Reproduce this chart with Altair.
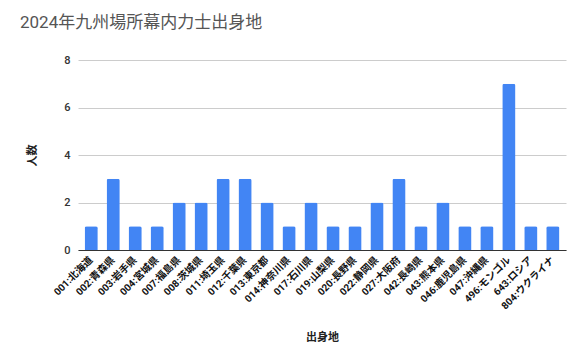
import altair as alt
import pandas as pd

categories = ["001:北海道", "002:青森県", "003:岩手県", "004:宮城県", "007:福島県", "008:茨城県",
              "011:埼玉県", "012:千葉県", "013:東京都", "014:神奈川県", "017:石川県", "019:山梨県",
              "020:長野県", "022:静岡県", "027:大阪府", "042:長崎県", "043:熊本県", "046:鹿児島県",
              "047:沖縄県", "496:モンゴル", "643:ロシア", "804:ウクライナ"]
counts = [1, 3, 1, 1, 2, 2, 3, 3, 2, 1, 2, 1, 1, 2, 3, 1, 2, 1, 1, 7, 1, 1]

df = pd.DataFrame({"出身地": categories, "人数": counts})
FONT = "Roboto, Noto Sans CJK JP, sans-serif"

chart = alt.Chart(df).mark_bar(color="#4285F4", cornerRadiusTopLeft=2, cornerRadiusTopRight=2).encode(
    x=alt.X("出身地:N", sort=None,
            scale=alt.Scale(paddingInner=0.4, paddingOuter=0.3),
            axis=alt.Axis(labelAngle=-45, labelAlign="right", labelBaseline="middle",
                          labelFontSize=10, labelColor="#111111", labelFont=FONT, labelPadding=8,
                          labelFontWeight="bold",
                          ticks=False, domainColor="#333333", labelOverlap=False,
                          titleFontSize=11, titleFont=FONT, titleFontWeight="bold",
                          titleColor="#222222", titleY=92, titleBaseline="bottom")),
    y=alt.Y("人数:Q", scale=alt.Scale(domain=[0, 8]),
            axis=alt.Axis(values=[0, 2, 4, 6, 8], ticks=False, domain=False,
                          gridColor="#cccccc", labelFontSize=11, labelColor="#333333",
                          labelFont=FONT, labelPadding=8, labelFontWeight=500,
                          titleFontSize=11, titleFont=FONT, titleFontWeight="bold",
                          titleColor="#222222", titleX=-46, titleY=95, titleAngle=-90,
                          titleAlign="center", titleBaseline="middle")),
).properties(
    width=488, height=190,
    title=alt.TitleParams("2024年九州場所幕内力士出身地", anchor="start", frame="bounds", dx=-6, offset=22,
                          fontSize=17, font=FONT, fontWeight="normal", color="#555555"),
    autosize=alt.AutoSizeParams(type="none"),
    padding={"left": 70, "top": 52, "right": 12, "bottom": 96},
).configure_view(stroke=None)

chart.save("out.html", embed_options={"renderer": "svg", "actions": False})
